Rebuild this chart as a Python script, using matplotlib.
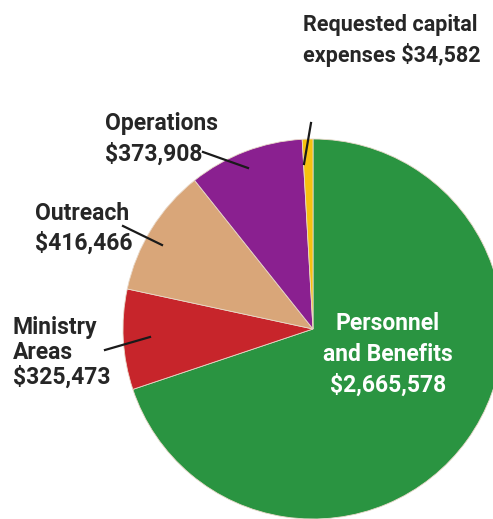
import matplotlib.pyplot as plt

# budget data
labels = ['Personnel\nand Benefits\n$2,665,578', 'Ministry\nAreas\n$325,473',
          'Outreach\n$416,466', 'Operations\n$373,908',
          'Requested capital\nexpenses $34,582']
values = [2665578, 325473, 416466, 373908, 34582]
colors = ['#2a9441', '#c7252b', '#d9a679', '#8a2090', '#f7c10f']

W, H = 493, 519
fig = plt.figure(figsize=(W / 100, H / 100), dpi=100)
ax = fig.add_axes([0, 0, 1, 1])


def py(y):
    # pixel row -> data y
    return H - y


ax.pie(values, colors=colors, startangle=90, counterclock=False,
       center=(313, py(329)), radius=190, frame=True,
       wedgeprops=dict(linewidth=0.6, edgecolor='#e8d8c8'))
ax.set_xlim(0, W)
ax.set_ylim(0, H)
ax.axis('off')

fam = ['Roboto', 'DejaVu Sans']
dark = '#262626'
fs = 16.5

ax.text(303, py(14), labels[4], ha='left', va='top', fontsize=15.5,
        fontweight='bold', family=fam, color=dark, linespacing=1.35)
ax.text(105, py(112), labels[3], ha='left', va='top', fontsize=fs,
        fontweight='bold', family=fam, color=dark, linespacing=1.4)
ax.text(35, py(202), labels[2], ha='left', va='top', fontsize=fs,
        fontweight='bold', family=fam, color=dark, linespacing=1.35)
ax.text(13, py(316), labels[1], ha='left', va='top', fontsize=fs,
        fontweight='bold', family=fam, color=dark, linespacing=1.1)
ax.text(388, py(312), labels[0], ha='center', va='top', fontsize=fs,
        fontweight='bold', family=fam, color='white', linespacing=1.42)

# leader lines
leaders = [((311, 123), (304, 164)),
           ((203, 152), (248, 168)),
           ((123, 226), (162, 245)),
           ((105, 350), (150, 337))]
for (x0, y0), (x1, y1) in leaders:
    ax.plot([x0, x1], [py(y0), py(y1)], color='#1a1a1a', lw=1.6)

fig.savefig('out.png', dpi=100)
